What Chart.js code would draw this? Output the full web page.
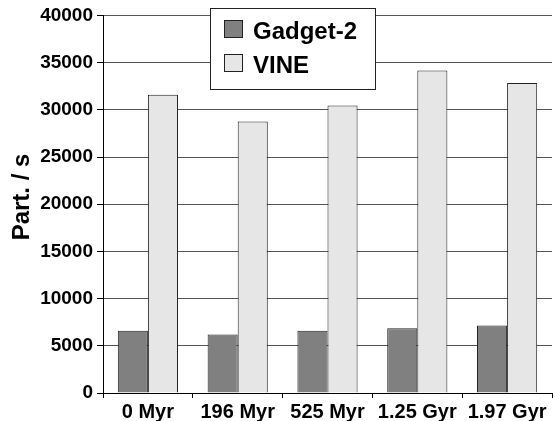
<!DOCTYPE html>
<html>
<head>
<meta charset="utf-8">
<script src="https://cdn.jsdelivr.net/npm/chart.js@4/dist/chart.umd.min.js"></script>
<style>
html,body{margin:0;padding:0;background:#fff;}
#wrap{width:555px;height:421px;position:relative;}
</style>
</head>
<body>
<div id="wrap"><canvas id="c" width="555" height="421"></canvas></div>
<script>
const categories = ["0 Myr", "196 Myr", "525 Myr", "1.25 Gyr", "1.97 Gyr"];
const gadgetValues = [6600, 6200, 6600, 6850, 7150];
const vineValues = [31600, 28750, 30450, 34150, 32850];
const seriesNames = ["Gadget-2", "VINE"];
const yTicks = [0, 5000, 10000, 15000, 20000, 25000, 30000, 35000, 40000];
const yTitle = "Part. / s";

const FONT = "'Liberation Sans', Arial, sans-serif";

const boxLegend = {
  id: 'boxLegend',
  afterDraw(chart) {
    const ctx = chart.ctx;
    const x0 = 210.5, y0 = 8.5, w = 165, h = 81;
    ctx.save();
    ctx.fillStyle = '#fff';
    ctx.fillRect(x0, y0, w, h);
    ctx.strokeStyle = '#222';
    ctx.lineWidth = 1;
    ctx.strokeRect(x0, y0, w, h);
    ctx.font = "bold 24px " + FONT;
    ctx.textBaseline = 'alphabetic';
    const rows = [37, 71];
    chart.data.datasets.forEach((ds, i) => {
      const sy = rows[i] - 17;
      ctx.fillStyle = ds.backgroundColor;
      ctx.fillRect(224.5, sy + 0.5, 18, 17);
      ctx.strokeStyle = '#222';
      ctx.strokeRect(224.5, sy + 0.5, 18, 17);
      ctx.fillStyle = '#000';
      ctx.fillText(ds.label, 253, rows[i] + 2);
    });
    ctx.restore();
  }
};

const axisTitle = {
  id: 'axisTitle',
  afterDraw(chart) {
    const ctx = chart.ctx;
    ctx.save();
    ctx.translate(29, 197);
    ctx.rotate(-Math.PI / 2);
    ctx.font = "bold 24px " + FONT;
    ctx.fillStyle = '#000';
    ctx.textAlign = 'center';
    ctx.textBaseline = 'alphabetic';
    ctx.fillText(yTitle, 0, 0);
    ctx.restore();
  }
};

new Chart(document.getElementById('c'), {
  type: 'bar',
  data: {
    labels: categories,
    datasets: [
      { label: seriesNames[0], data: gadgetValues, backgroundColor: '#808080', borderColor: '#222', borderWidth: 1 },
      { label: seriesNames[1], data: vineValues, backgroundColor: '#e6e6e6', borderColor: '#222', borderWidth: 1 }
    ]
  },
  options: {
    responsive: false,
    animation: false,
    devicePixelRatio: 1,
    layout: { padding: { top: 14, right: 3, left: 0, bottom: 0 } },
    plugins: { legend: { display: false }, tooltip: { enabled: false } },
    datasets: { bar: { categoryPercentage: 0.67, barPercentage: 1.0 } },
    scales: {
      x: {
        offset: true,
        grid: { display: true, drawOnChartArea: false, drawTicks: true, tickLength: 5, color: '#000', offset: true },
        border: { display: true, color: '#000', width: 1 },
        ticks: { color: '#000', font: { family: FONT, size: 20, weight: 'bold' }, padding: 2, maxRotation: 0, autoSkip: false },
        afterFit(s) { s.height = 28; }
      },
      y: {
        min: 0, max: 40000,
        afterBuildTicks(s) { s.ticks = yTicks.map(v => ({ value: v })); },
        grid: { color: '#555', lineWidth: 1, drawTicks: true, tickLength: 6, tickColor: '#000' },
        border: { display: true, color: '#000', width: 1 },
        ticks: { color: '#000', font: { family: FONT, size: 19, weight: 'bold' }, padding: 4, callback: v => String(v) },
        afterFit(s) { s.width = 103; }
      }
    }
  },
  plugins: [boxLegend, axisTitle]
});
</script>
</body>
</html>
